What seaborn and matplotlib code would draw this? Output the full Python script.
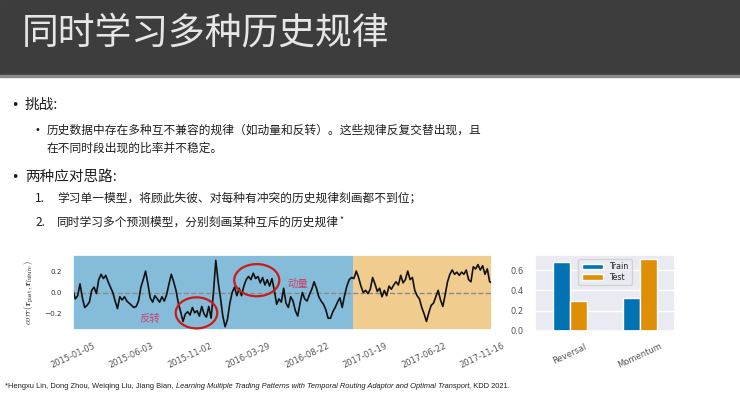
import matplotlib
matplotlib.use('Agg')
import matplotlib.pyplot as plt
from matplotlib.patches import Ellipse, Rectangle
import numpy as np
import pandas as pd
import seaborn as sns

# slide text
title = '同时学习多种历史规律'
bullet1 = '挑战:'
bullet1_sub = ['历史数据中存在多种互不兼容的规律（如动量和反转）。这些规律反复交替出现，且',
               '在不同时段出现的比率并不稳定。']
bullet2 = '两种应对思路:'
bullet2_items = ['学习单一模型，将顾此失彼、对每种有冲突的历史规律刻画都不到位；',
                 '同时学习多个预测模型，分别刻画某种互斥的历史规律']
cite_authors = '*Hengxu Lin, Dong Zhou, Weiqing Liu, Jiang Bian, '
cite_title = 'Learning Multiple Trading Patterns with Temporal Routing Adaptor and Optimal Transport'
cite_venue = ', KDD 2021.'

# rolling correlation, one value every 4 trading days
step = 4
corr_vals = [
    0.02, -0.06, -0.03, 0.08, -0.05, -0.14, -0.12, -0.09, 0.02, 0.05,
    -0.01, 0.12, 0.17, 0.13, 0.16, 0.10, 0.05, 0.00, -0.08, -0.15,
    -0.04, -0.07, -0.04, -0.08, -0.10, -0.12, -0.14, -0.13, -0.08, 0.05,
    0.12, 0.20, 0.08, -0.05, -0.09, -0.03, -0.06, -0.09, -0.04, -0.08,
    -0.02, 0.08, 0.17, 0.10, 0.02, -0.10, -0.18, -0.27, -0.20, -0.18,
    -0.21, -0.14, -0.19, -0.17, -0.22, -0.13, -0.20, -0.23, -0.13, -0.24,
    0.00, 0.30, 0.10, -0.05, -0.22, -0.32, -0.25, -0.10, 0.00, 0.05,
    -0.03, 0.04, -0.03, 0.06, 0.12, 0.15, 0.12, 0.18, 0.13, 0.15,
    0.09, 0.14, 0.07, 0.12, 0.06, 0.13, 0.02, -0.11, -0.06, -0.09,
    0.04, -0.10, -0.14, -0.04, -0.08, -0.17, -0.22, -0.10, 0.00, -0.06,
    -0.08, -0.02, 0.03, 0.10, 0.04, -0.04, -0.08, -0.11, -0.16, -0.24,
    -0.24, -0.18, -0.14, -0.09, -0.05, -0.14, -0.03, 0.06, 0.12, 0.14,
    0.13, 0.20, 0.14, 0.06, 0.00, 0.02, -0.01, 0.03, 0.14, 0.08,
    0.01, 0.04, -0.04, 0.02, -0.03, 0.06, 0.03, 0.07, 0.10, 0.07,
    0.16, 0.09, 0.12, 0.20, 0.12, 0.14, 0.02, -0.03, -0.06, -0.14,
    -0.20, -0.27, -0.19, -0.12, -0.10, -0.04, 0.02, -0.07, -0.13, -0.02,
    0.10, 0.17, 0.21, 0.17, 0.19, 0.16, 0.19, 0.17, 0.21, 0.12,
    0.10, 0.24, 0.22, 0.26, 0.21, 0.25, 0.17, 0.22, 0.10, 0.09,
]
date_ticks = [0, 100, 200, 300, 400, 500, 600, 700]
date_labels = ['2015-01-05', '2015-06-03', '2015-11-02', '2016-03-29',
               '2016-08-22', '2017-01-19', '2017-06-22', '2017-11-16']
split_day = 478

# share of each pattern
regimes = ['Reversal', 'Momentum']
train_share = [0.68, 0.32]
test_share = [0.29, 0.71]

sns.set_theme(style='darkgrid', palette='colorblind')
plt.rcParams['font.family'] = ['Noto Sans CJK SC', 'DejaVu Sans']
plt.rcParams['mathtext.fontset'] = 'cm'
cb = sns.color_palette('colorblind')

fig = plt.figure(figsize=(7.4, 4.2), dpi=100)

# slide layer in pixel coords
bg = fig.add_axes([0, 0, 1, 1])
bg.set_xlim(0, 740)
bg.set_ylim(420, 0)
bg.axis('off')
bg.add_patch(Rectangle((0, 0), 740, 76, color='#3d3d3d', zorder=0))
bg.add_patch(Rectangle((0, 75), 740, 1.5, color='#8a8a8a', zorder=0))
bg.text(22, 33, title, fontsize=26.5, color='#e6e6e6', va='center', fontweight='light')

ink = '#1e1e1e'
body = 8.45
bg.text(15, 105, '•', fontsize=9, color=ink, va='center', ha='center', family='DejaVu Sans')
bg.text(25, 105, bullet1, fontsize=10.5, color=ink, va='center')
bg.text(37, 130, '•', fontsize=7, color=ink, va='center', ha='center', family='DejaVu Sans')
bg.text(47, 130, bullet1_sub[0], fontsize=body, color=ink, va='center')
bg.text(47, 148, bullet1_sub[1], fontsize=body, color=ink, va='center')
bg.text(15, 177, '•', fontsize=9, color=ink, va='center', ha='center', family='DejaVu Sans')
bg.text(25, 177, bullet2, fontsize=10.5, color=ink, va='center')
for i, (yy, item) in enumerate(zip([198, 222], bullet2_items)):
    bg.text(35, yy, '{}.'.format(i + 1), fontsize=body, color=ink, va='center')
    t = bg.text(57, yy, item, fontsize=body, color=ink, va='center')
bg.annotate('*', xy=(1, 1), xycoords=t, fontsize=6, color=ink, va='top', ha='left')

fs_cite = 5.45
c1 = bg.text(5, 386, cite_authors, fontsize=fs_cite, color=ink, va='center', family='Liberation Sans')
c2 = bg.annotate(cite_title, xy=(1, 0), xycoords=c1, va='bottom', ha='left', fontsize=fs_cite,
                 color=ink, style='italic', family='Liberation Sans')
bg.annotate(cite_venue, xy=(1, 0), xycoords=c2, va='bottom', ha='left', fontsize=fs_cite,
            color=ink, family='Liberation Sans')

# line chart
ax = fig.add_axes([73 / 740, 90 / 420, 419 / 740, 75 / 420])
ax.set_facecolor('white')
days = np.arange(len(corr_vals)) * step
ax.axvspan(0, split_day, color=cb[0], alpha=0.48, lw=0)
ax.axvspan(split_day, days[-1], color=cb[1], alpha=0.45, lw=0)
ax.axhline(0, color='#8a8a8a', ls='--', lw=1)
sns.lineplot(x=days, y=corr_vals, color='#111111', lw=1.2, ax=ax)
ax.set_xlim(0, days[-1])
ax.set_ylim(-0.35, 0.35)
ax.set_yticks([-0.2, 0.0, 0.2])
ax.set_yticklabels(['\u22120.2', '0.0', '0.2'], family='DejaVu Sans')
ax.set_xticks(date_ticks)
ax.set_xticklabels(date_labels, rotation=25, ha='center', family='DejaVu Sans')
ax.tick_params(axis='y', labelsize=5.2, colors='#333333', pad=2)
ax.tick_params(axis='x', labelsize=6, colors='#555555', pad=2)
ax.set_ylabel(r'$corr(\mathbf{r}_{\mathrm{past}},\mathbf{r}_{\mathrm{future}})$', fontsize=6.3, labelpad=6)
ax.add_patch(Ellipse((211, -0.19), 71, 0.29, fill=False, ec='#cc1a1a', lw=1.6, zorder=5))
ax.add_patch(Ellipse((314, 0.115), 77, 0.30, fill=False, ec='#cc1a1a', lw=1.6, zorder=5))
ax.text(131, -0.25, '反转', fontsize=7.5, color='#c8436a', style='italic', ha='center', va='center')
ax.text(384, 0.085, '动量', fontsize=7.5, color='#c8436a', style='italic', ha='center', va='center')

# bar chart
bx = fig.add_axes([535 / 740, 89.3 / 420, 140 / 740, 75.7 / 420])
share = pd.DataFrame({
    'regime': regimes * 2,
    'share': train_share + test_share,
    'set': ['Train'] * len(regimes) + ['Test'] * len(regimes),
})
sns.barplot(data=share, x='regime', y='share', hue='set', palette=cb[:2],
            width=0.48, saturation=1, ax=bx)
bx.set_ylim(0, 0.75)
bx.set_yticks([0.0, 0.2, 0.4, 0.6])
bx.set_xlabel('')
bx.set_ylabel('')
bx.tick_params(axis='y', labelsize=6, colors='#555555', pad=2)
bx.tick_params(axis='x', labelsize=6, colors='#555555', pad=2)
plt.setp(bx.get_xticklabels(), rotation=25, family='DejaVu Sans')
plt.setp(bx.get_yticklabels(), family='DejaVu Sans')
bx.legend(loc='upper center', handlelength=2.6, borderpad=0.4, labelspacing=0.2,
          prop={'family': 'DejaVu Sans', 'size': 5.8})

fig.savefig('out.png', dpi=100)
